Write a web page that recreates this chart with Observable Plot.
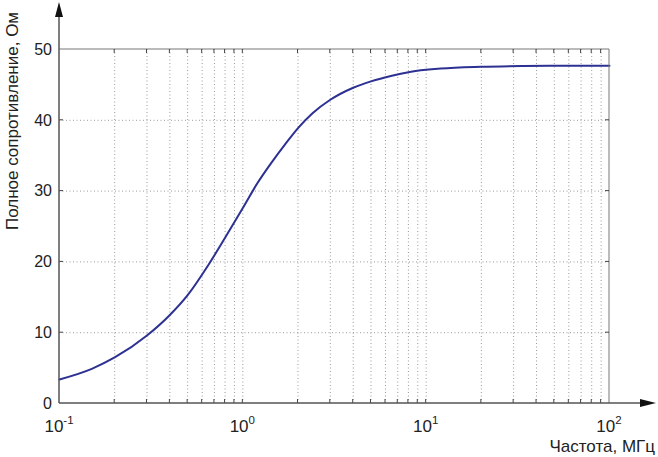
<!DOCTYPE html>
<html><head><meta charset="utf-8">
<script src="https://cdn.jsdelivr.net/npm/d3@7"></script>
<script src="https://cdn.jsdelivr.net/npm/@observablehq/plot@0.6"></script>
<style>html,body{margin:0;padding:0;background:#fff}</style>
</head><body><div id="chart"></div>
<script>
// Data
const freq      = [0.1, 0.15, 0.2, 0.3, 0.4, 0.5, 0.65, 0.8, 1.0, 1.2, 1.45, 1.7, 2.0, 2.4, 3.0, 4.0, 5.0, 6.5, 8.0, 12, 20, 34, 60, 100];
const impedance = [3.4, 4.9, 6.5, 9.6, 12.5, 15.3, 19.6, 23.4, 27.6, 31.1, 34.2, 36.6, 38.9, 41.0, 42.9, 44.6, 45.5, 46.3, 46.8, 47.3, 47.55, 47.66, 47.7, 47.72];

const xTicks = [0.1, 1, 10, 100];
const xTickExp = ["-1", "0", "1", "2"];
const yTicks = [0, 10, 20, 30, 40, 50];
const gridX = [0.2,0.3,0.4,0.5,0.6,0.7,0.8,0.9,1,2,3,4,5,6,7,8,9,10,20,30,40,50,60,70,80,90];
const gridY = [10, 20, 30, 40];
const xTitle = "Частота, МГц";
const yTitle = "Полное сопротивление, Ом";

const data = freq.map((f, i) => ({f, z: impedance[i]}));
const FONT = "'Liberation Sans', Arial, Helvetica, sans-serif";
const AXIS = "#555";

function decorations(index, scales, values, dimensions) {
  const x = scales.x, y = scales.y;
  const g = d3.create("svg:g").attr("font-family", FONT);
  const xa = x(0.1), xb = x(100), ya = y(0), yb = y(50);
  // frame lines top/right
  g.append("line").attr("x1", xa).attr("x2", xb).attr("y1", yb).attr("y2", yb).attr("stroke", "#777");
  g.append("line").attr("x1", xb).attr("x2", xb).attr("y1", yb).attr("y2", ya).attr("stroke", "#777");
  // minor ticks bottom/top (inward)
  for (const v of gridX) {
    g.append("line").attr("x1", x(v)).attr("x2", x(v)).attr("y1", ya).attr("y2", ya - 4).attr("stroke", "#444");
    g.append("line").attr("x1", x(v)).attr("x2", x(v)).attr("y1", yb).attr("y2", yb + 4).attr("stroke", "#444");
  }
  for (const v of gridY) {
    g.append("line").attr("x1", xa).attr("x2", xa + 4).attr("y1", y(v)).attr("y2", y(v)).attr("stroke", "#444");
    g.append("line").attr("x1", xb).attr("x2", xb - 4).attr("y1", y(v)).attr("y2", y(v)).attr("stroke", "#444");
  }
  // axis lines with arrows
  const yTip = yb - 47, xTip = xb + 47;
  g.append("line").attr("x1", xa).attr("x2", xa).attr("y1", ya).attr("y2", yTip + 10).attr("stroke", AXIS).attr("stroke-width", 1.5);
  g.append("line").attr("x1", xa).attr("x2", xTip - 10).attr("y1", ya).attr("y2", ya).attr("stroke", AXIS).attr("stroke-width", 1.5);
  g.append("path").attr("d", `M${xa},${yTip}L${xa - 4},${yTip + 15}L${xa + 4},${yTip + 15}Z`).attr("fill", "#111");
  g.append("path").attr("d", `M${xTip},${ya}L${xTip - 16},${ya - 4}L${xTip - 16},${ya + 4}Z`).attr("fill", "#111");
  // x tick labels
  xTicks.forEach((v, i) => {
    const t = g.append("text").attr("x", x(v)).attr("y", ya + 29).attr("text-anchor", "middle")
      .attr("font-size", 17).attr("fill", "#222");
    t.append("tspan").text("10");
    t.append("tspan").attr("dy", -8).attr("font-size", 11.5).text(xTickExp[i]);
  });
  // y tick labels
  for (const v of yTicks) {
    g.append("text").attr("x", xa - 7).attr("y", y(v)).attr("dy", "0.36em").attr("text-anchor", "end")
      .attr("font-size", 16).attr("fill", "#222").text(v);
  }
  // titles
  g.append("text").attr("transform", `translate(18,${(ya + yb) / 2 - 105}) rotate(-90)`).attr("text-anchor", "middle")
    .attr("font-size", 17).attr("fill", "#222").text(yTitle);
  g.append("text").attr("x", dimensions.width - 3).attr("y", dimensions.height - 5).attr("text-anchor", "end")
    .attr("font-size", 17).attr("fill", "#222").text(xTitle);
  return g.node();
}

const chart = Plot.plot({
  width: 658,
  height: 457,
  marginLeft: 59,
  marginRight: 49,
  marginTop: 49,
  marginBottom: 54,
  style: {fontFamily: FONT, background: "#fff"},
  x: {type: "log", domain: [0.1, 100], axis: null},
  y: {domain: [0, 50], axis: null},
  marks: [
    Plot.ruleX(gridX, {stroke: "#999", strokeDasharray: "1,2.5", strokeWidth: 1}),
    Plot.ruleY(gridY, {stroke: "#999", strokeDasharray: "1,2.5", strokeWidth: 1}),
    Plot.line(data, {x: "f", y: "z", curve: "monotone-x", stroke: "#2d3192", strokeWidth: 2}),
    decorations
  ]
});
document.getElementById("chart").appendChild(chart);
</script>
</body></html>
